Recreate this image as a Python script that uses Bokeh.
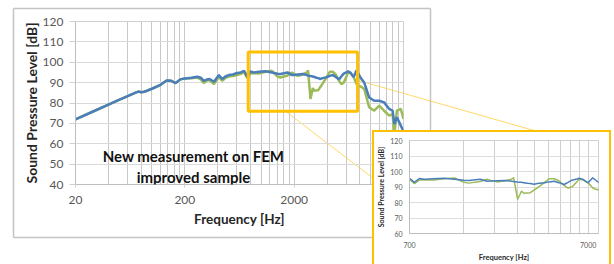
from jinja2 import Template
from bokeh.plotting import figure
from bokeh.models import FixedTicker, BoxAnnotation, Label, Range1d, PrintfTickFormatter
from bokeh.embed import file_html
from bokeh.resources import INLINE

# ---------------- data ----------------
freq = [20, 30, 40, 50, 60, 70, 75, 80, 85, 90, 100, 120, 130, 138, 150, 165, 182, 200,
        230, 260, 280, 298, 320, 337, 369, 410, 439, 470, 505, 550, 600, 650, 697, 746,
        794, 850, 953, 1091, 1250, 1412, 1500, 1741, 1905, 2000, 2165, 2400, 2610, 2680,
        2820, 2900, 2960, 3055, 3200, 3320, 3483, 3640, 3980, 4230, 4525, 4800, 5140, 5400,
        5680, 6050, 6220, 6580, 7000, 7420, 7700, 8200, 8740, 9700, 10800, 12000, 13300,
        14800, 15900, 16500, 17400, 18900, 20000]
spl_blue = [72.0, 76.2, 79.2, 81.5, 83.4, 85.0, 85.6, 85.3, 85.5, 86.0, 87.0, 88.9, 90.3, 91.1, 90.9, 89.8, 91.6, 92.0,
            92.4, 92.9, 92.4, 90.9, 91.6, 91.8, 90.4, 93.7, 91.8, 93.0, 93.7, 94.0, 94.7, 95.0, 95.8, 93.0,
            95.5, 95.0, 95.3, 95.6, 95.0, 94.4, 94.2, 95.0, 93.7, 93.8, 94.0, 94.2, 93.7, 93.5,
            93.2, 93.1, 93.0, 92.8, 92.4, 92.2, 91.8, 92.2, 92.7, 93.3, 93.7, 92.8, 91.6, 93.0,
            94.4, 95.2, 95.6, 94.8, 92.7, 95.9, 94.5, 92.0, 90.1, 82.7, 81.1, 81.1, 80.3,
            77.1, 76.2, 69.7, 73.0, 68.9, 66.1]
spl_green = [72.0, 76.2, 79.2, 81.5, 83.4, 85.0, 85.6, 85.3, 85.5, 86.0, 87.0, 88.9, 90.3, 91.1, 90.9, 89.8, 91.6, 92.0,
             92.2, 92.5, 91.6, 89.8, 91.0, 91.3, 89.3, 92.8, 90.9, 92.3, 93.0, 93.2, 93.7, 94.3, 95.0, 92.2,
             94.5, 94.6, 94.5, 95.3, 95.8, 93.0, 92.5, 93.5, 95.0, 94.2, 93.3, 94.0, 95.0, 96.0,
             82.0, 85.0, 87.3, 86.0, 86.2, 86.3, 88.0, 89.5, 92.8, 95.3, 95.3, 94.0, 91.0, 89.3,
             90.0, 93.3, 95.0, 94.5, 92.7, 89.5, 88.5, 88.0, 86.9, 77.9, 76.2, 78.7, 76.2,
             73.8, 74.5, 64.8, 76.2, 77.1, 72.2]

main_x_labels = [20, 200, 2000]
main_y_ticks = [40, 50, 60, 70, 80, 90, 100, 110, 120]
inset_x_labels = [700, 7000]
inset_y_ticks = [60, 70, 80, 90, 100, 110, 120]
zoom_f = [760, 7600]
zoom_db = [76, 105]

BLUE = "#4A7EBB"
GREEN = "#9BBB59"
GOLD = "#FFC000"
FONT = "Lato"

main_minor = [m * k for m in (20, 200, 2000) for k in range(1, 10)] + [20000]
inset_minor = [700 * k for k in range(1, 10)] + [7000]

PW, PH = 614, 264

# ---------------- decoration layer (chart border + callout lines), page-pixel space ----------------
deco = figure(name="deco", width=PW, height=PH, x_range=Range1d(0, PW), y_range=Range1d(PH, 0),
              output_backend="svg", toolbar_location=None,
              x_axis_location=None, y_axis_location=None,
              min_border=0, min_border_left=0, min_border_right=0,
              min_border_top=0, min_border_bottom=0)
deco.grid.visible = False
deco.outline_line_color = None
deco.segment(x0=[13, 430, 430, 13], y0=[8, 8, 237, 237],
             x1=[430, 430, 13, 13], y1=[8, 237, 237, 8],
             line_color="#c4c4c4", line_width=1.5)
deco.segment(x0=[284, 358], y0=[110, 80], x1=[373, 537], y1=[178, 131],
             line_color=GOLD, line_alpha=0.6, line_width=1)

# ---------------- main chart (placed 14px from the page's left edge) ----------------
p = figure(name="main", width=426, height=250, x_axis_type="log",
           x_range=Range1d(20, 20000), y_range=Range1d(40, 120),
           output_backend="svg", toolbar_location=None,
           min_border_left=61, min_border_right=37, min_border_top=21, min_border_bottom=66)
p.outline_line_color = "#d0d0d0"
p.background_fill_alpha = 0
p.border_fill_alpha = 0

p.xaxis.ticker = FixedTicker(ticks=main_x_labels, minor_ticks=main_minor)
p.xaxis.formatter = PrintfTickFormatter(format="%d")
p.yaxis.ticker = FixedTicker(ticks=main_y_ticks)
p.xgrid.grid_line_color = "#c8c8c8"
p.xgrid.minor_grid_line_color = "#c8c8c8"
p.ygrid.grid_line_color = "#dadada"
for ax in (p.xaxis, p.yaxis):
    ax.axis_line_color = "#bfbfbf"
    ax.major_tick_line_color = "#d0d0d0"
    ax.minor_tick_line_color = None
    ax.major_tick_in = 0
    ax.major_label_text_font = FONT
    ax.major_label_text_font_size = "12px"
    ax.major_label_text_color = "#595959"
    ax.axis_label_text_font = FONT
    ax.axis_label_text_font_style = "bold"
    ax.axis_label_text_color = "#262626"
p.yaxis.major_tick_out = 6
p.yaxis.major_label_standoff = 6
p.xaxis.major_tick_out = 3
p.xaxis.major_label_standoff = 7
p.yaxis.axis_label = "Sound Pressure Level [dB]"
p.yaxis.axis_label_text_font_size = "14px"
p.yaxis.axis_label_standoff = 0
p.xaxis.axis_label = "Frequency [Hz]"
p.xaxis.axis_label_text_font_size = "13.5px"
p.xaxis.axis_label_standoff = 4

p.line(freq, spl_green, line_color=GREEN, line_width=2.5)
p.line(freq, spl_blue, line_color=BLUE, line_width=2.5)

p.add_layout(BoxAnnotation(left=zoom_f[0], right=zoom_f[1], bottom=zoom_db[0], top=zoom_db[1],
                           fill_alpha=0, line_color=GOLD, line_width=3, line_alpha=1))

p.add_layout(Label(x=179, y=166, x_units="canvas", y_units="canvas",
                   text="New measurement on FEM\nimproved sample",
                   text_align="center", text_baseline="middle",
                   text_font=FONT, text_font_style="bold", text_font_size="15px",
                   text_color="#111111", text_line_height=1.2))

# ---------------- inset ----------------
q = figure(name="inset", width=235, height=132, x_axis_type="log",
           x_range=Range1d(700, 8000), y_range=Range1d(60, 120),
           output_backend="svg", toolbar_location=None,
           min_border_left=35, min_border_right=11, min_border_top=8, min_border_bottom=30)
q.outline_line_color = "#d0d0d0"
q.xaxis.ticker = FixedTicker(ticks=inset_x_labels, minor_ticks=inset_minor)
q.xaxis.formatter = PrintfTickFormatter(format="%d")
q.yaxis.ticker = FixedTicker(ticks=inset_y_ticks)
q.xgrid.grid_line_color = "#cfcfcf"
q.xgrid.minor_grid_line_color = "#cfcfcf"
q.ygrid.grid_line_color = "#dedede"
for ax in (q.xaxis, q.yaxis):
    ax.axis_line_color = "#bfbfbf"
    ax.major_tick_line_color = None
    ax.minor_tick_line_color = None
    ax.major_tick_in = 0
    ax.major_tick_out = 0
    ax.major_label_text_font = FONT
    ax.major_label_text_font_size = "7px"
    ax.major_label_text_color = "#595959"
    ax.axis_label_text_font = FONT
    ax.axis_label_text_font_style = "bold"
    ax.axis_label_text_color = "#262626"
q.yaxis.major_label_standoff = 7
q.xaxis.major_label_standoff = 4
q.yaxis.axis_label = "Sound Pressure Level [dB]"
q.yaxis.axis_label_text_font_size = "7px"
q.yaxis.axis_label_standoff = 2
q.xaxis.axis_label = "Frequency [Hz]"
q.xaxis.axis_label_text_font_size = "7.5px"
q.xaxis.axis_label_standoff = 2

q.line(freq, spl_green, line_color=GREEN, line_width=1.5)
q.line(freq, spl_blue, line_color=BLUE, line_width=1.5)

TEMPLATE = Template("""{% from macros import embed %}
<!DOCTYPE html>
<html lang="en">
<head>
<meta charset="utf-8">
<title>Sound Pressure Level</title>
<style>html, body { margin: 0; padding: 0; overflow: hidden; background: white; }</style>
{{ bokeh_css if bokeh_css }}
{{ bokeh_js if bokeh_js }}
</head>
<body>
<div style="position: relative; width: 614px; height: 264px; overflow: hidden;">
  <div style="position: absolute; left: 0px; top: 0px;">{{ embed(roots.deco) }}</div>
  <div style="position: absolute; left: 14px; top: 0px;">{{ embed(roots.main) }}</div>
  <div style="position: absolute; left: 372px; top: 130px; background: white;
              border-left: 2.5px solid #FFC000; border-top: 2.5px solid #FFC000;
              border-right: 2.5px solid #FFC000;">{{ embed(roots.inset) }}</div>
</div>
{{ plot_script }}
</body>
</html>
""")

open("out.html", "w").write(file_html([deco, p, q], INLINE, template=TEMPLATE))
